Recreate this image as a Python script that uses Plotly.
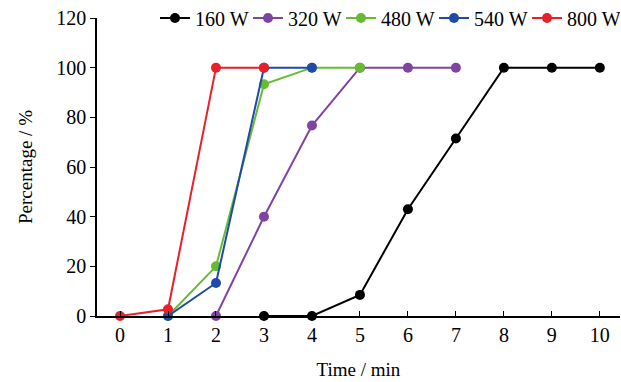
import plotly.graph_objects as go

time_160 = [3, 4, 5, 6, 7, 8, 9, 10]
pct_160 = [0, 0, 8.5, 43, 71.5, 100, 100, 100]
time_320 = [2, 3, 4, 5, 6, 7]
pct_320 = [0, 40, 76.7, 100, 100, 100]
time_480 = [1, 2, 3, 4, 5]
pct_480 = [0, 20, 93.3, 100, 100]
time_540 = [1, 2, 3, 4]
pct_540 = [0, 13.3, 100, 100]
time_800 = [0, 1, 2, 3]
pct_800 = [0, 2.7, 100, 100]

series = [
    ("160 W", time_160, pct_160, "#000000"),
    ("320 W", time_320, pct_320, "#7f44a0"),
    ("480 W", time_480, pct_480, "#66bb33"),
    ("540 W", time_540, pct_540, "#1f4aa8"),
    ("800 W", time_800, pct_800, "#e8202a"),
]

FONT = "Liberation Serif"
tf = dict(family=FONT, size=20, color="black")
ttl = dict(family=FONT, size=19, color="black")
fig = go.Figure()
for name, x, y, c in series:
    fig.add_trace(go.Scatter(x=x, y=y, name=name, mode="lines+markers",
                             line=dict(color=c, width=2),
                             marker=dict(color=c, size=10),
                             cliponaxis=False))

fig.update_layout(
    width=621, height=382,
    margin=dict(l=97, r=1, t=18, b=66, autoexpand=False),
    paper_bgcolor="white", plot_bgcolor="white",
    font=tf,
    showlegend=True,
    legend=dict(orientation="h", x=1.0, xanchor="right",
                y=1.0, yanchor="middle",
                font=tf, bgcolor="rgba(0,0,0,0)",
                itemwidth=30, tracegroupgap=0, entrywidth=48),
    xaxis=dict(range=[-0.48, 10.42], tickmode="array", tickvals=list(range(11)),
               ticks="inside", ticklen=5, tickcolor="black", showline=True,
               linecolor="black", linewidth=1.5, showgrid=False, zeroline=False,
               tickfont=tf, automargin=False,
               title=dict(text="Time / min", standoff=18, font=ttl)),
    yaxis=dict(range=[0, 120], tickmode="array", tickvals=[0, 20, 40, 60, 80, 100, 120],
               ticks="outside", ticklen=5, tickcolor="black", showline=True,
               linecolor="black", linewidth=1.5, showgrid=False, zeroline=False,
               tickfont=tf, automargin=False,
               title=dict(text="Percentage / %", standoff=19, font=ttl)),
)
fig.write_html("out.html", config={"displayModeBar": False},
               post_script="document.body.style.margin='0px';")
